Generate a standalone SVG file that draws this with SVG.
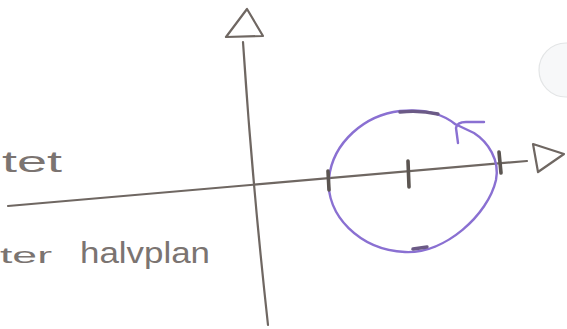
<svg xmlns="http://www.w3.org/2000/svg" width="567" height="329" viewBox="0 0 567 329">
<style>
.ax{fill:none;stroke:#6f6762;stroke-width:2.2;stroke-linecap:round;stroke-linejoin:round}
.tk{fill:none;stroke:#5b5551;stroke-width:3.6;stroke-linecap:round}
.cv{fill:none;stroke:#8a70d2;stroke-width:2.4;stroke-linecap:round;stroke-linejoin:round}
.ov{fill:none;stroke:#6b5a86;stroke-width:3.4;stroke-linecap:round}
.tx{font-family:"Liberation Sans",Arial,sans-serif;fill:#7b7471}
</style>
<rect width="567" height="329" fill="#ffffff"/>
<circle cx="566" cy="70" r="27" fill="#f7f8f9" stroke="#e3e5e6" stroke-width="1.2"/>
<g id="axes">
<path class="ax" d="M8 206 L527 161"/>
<path class="ax" d="M533 144 L564 154 L538 172 Z"/>
<path class="ax" d="M243 42 Q 252 180 268 325"/>
<path class="ax" d="M247 9 L226 37 L263 36 Z"/>
</g>
<g id="circle">
<path class="cv" d="M455 124 C440 112,420 109,400 111 C365 115,333 142,329 178 C325 215,360 250,405 252 C445 254,488 215,496 180 C500 160,488 142,474 133 L455 124"/>
<path class="cv" d="M484 122 L466 122 Q457 122 456 128 L458 143"/>
<path class="ov" d="M400 112 Q420 110 438 114"/>
<path class="ov" d="M413 249 L427 247"/>
</g>
<g id="ticks">
<path class="tk" d="M328 171 L329 190"/>
<path class="tk" d="M408 161 L409 187"/>
<path class="tk" d="M499 152 L501 173"/>
</g>
<g id="labels">
<text class="tx" x="2" y="172" font-size="30" textLength="60" lengthAdjust="spacingAndGlyphs">tet</text>
<text class="tx" x="0" y="263" font-size="22" textLength="52" lengthAdjust="spacingAndGlyphs">ter</text>
<text class="tx" x="80" y="263" font-size="30" textLength="130" lengthAdjust="spacingAndGlyphs">halvplan</text>
</g>
</svg>
